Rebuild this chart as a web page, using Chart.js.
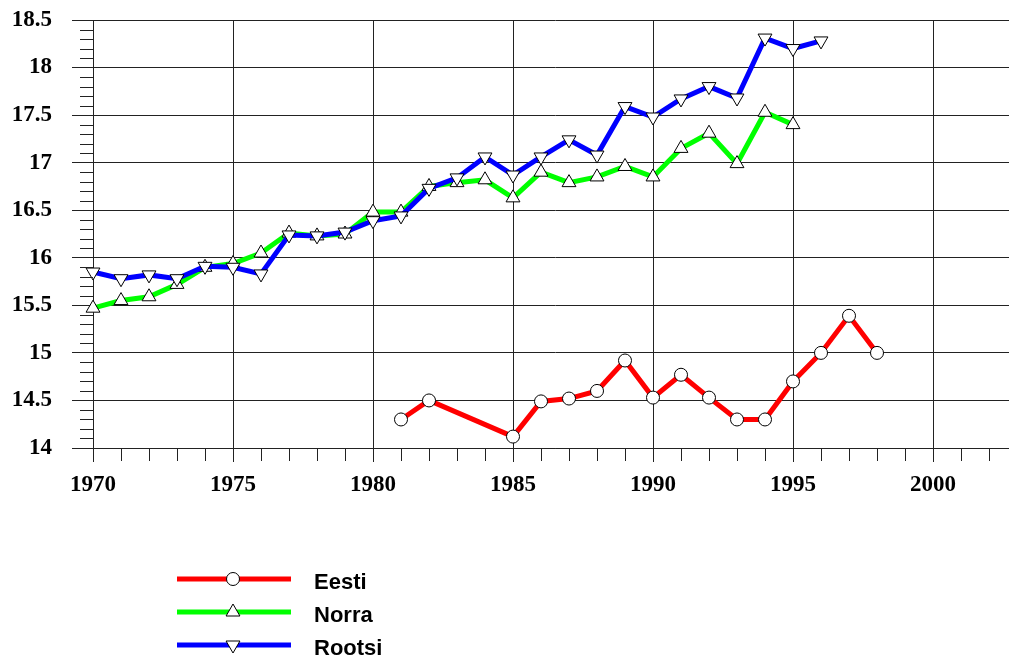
<!DOCTYPE html>
<html lang="et">
<head>
  <meta charset="UTF-8">
  <title>Eesti, Norra, Rootsi 1970-1998</title>
  <script src="https://cdn.jsdelivr.net/npm/chart.js"></script>
  <style>
    html, body {
      margin: 0;
      padding: 0;
      background: #fff;
      overflow: hidden;
    }
    .wrap {
      width: 1030px;
      height: 657px;
    }
  </style>
</head>
<body>
<div class="wrap">
  <canvas id="chart" width="1030" height="657"></canvas>
</div>

<script>
  // series
  const eestiYears = [1981, 1982, 1985, 1986, 1987, 1988, 1989, 1990, 1991, 1992, 1993, 1994, 1995, 1996, 1997, 1998];
  const eestiValues = [14.30, 14.50, 14.12, 14.49, 14.52, 14.60, 14.92, 14.53, 14.77, 14.53, 14.30, 14.30, 14.70, 15.00, 15.39, 15.00];

  const norraYears = [1970, 1971, 1972, 1973, 1974, 1975, 1976, 1977, 1978, 1979, 1980, 1981, 1982, 1983, 1984, 1985, 1986, 1987, 1988, 1989, 1990, 1991, 1992, 1993, 1994, 1995];
  const norraValues = [15.47, 15.55, 15.59, 15.72, 15.90, 15.94, 16.05, 16.26, 16.23, 16.25, 16.48, 16.48, 16.75, 16.79, 16.82, 16.63, 16.90, 16.79, 16.85, 16.96, 16.85, 17.15, 17.31, 16.99, 17.53, 17.40];

  const rootsiYears = [1970, 1971, 1972, 1973, 1974, 1975, 1976, 1977, 1978, 1979, 1980, 1981, 1982, 1983, 1984, 1985, 1986, 1987, 1988, 1989, 1990, 1991, 1992, 1993, 1994, 1995, 1996];
  const rootsiValues = [15.85, 15.78, 15.82, 15.78, 15.91, 15.90, 15.83, 16.24, 16.23, 16.27, 16.39, 16.44, 16.73, 16.84, 17.06, 16.87, 17.06, 17.24, 17.08, 17.59, 17.48, 17.67, 17.80, 17.68, 18.31, 18.20, 18.28];

  // axes
  const xMin = 1970, xMax = 2003, xStep = 5;
  const yMin = 14, yMax = 18.5, yStep = 0.5, yMinorStep = 0.1;

  const pairs = (xs, ys) => xs.map((x, i) => ({ x: x, y: ys[i] }));

  const serif = "'Liberation Serif', 'Times New Roman', serif";
  const sans = "'Liberation Sans', Arial, sans-serif";
  const gridColor = '#222';

  // small ticks between the labelled ones
  const minorTicks = {
    id: 'minorTicks',
    afterDraw(chart) {
      const { ctx, chartArea, scales } = chart;
      ctx.save();
      ctx.strokeStyle = gridColor;
      ctx.lineWidth = 1;
      ctx.beginPath();
      const nY = Math.round((yMax - yMin) / yMinorStep);
      for (let i = 0; i <= nY; i++) {
        if (i % 5 === 0) continue;
        const y = Math.round(scales.y.getPixelForValue(yMin + i * yMinorStep)) + 0.5;
        ctx.moveTo(chartArea.left - 13, y);
        ctx.lineTo(chartArea.left, y);
      }
      for (let yr = xMin; yr <= xMax; yr++) {
        if (yr % xStep === 0) continue;
        const x = Math.round(scales.x.getPixelForValue(yr)) + 0.5;
        ctx.moveTo(x, chartArea.bottom);
        ctx.lineTo(x, chartArea.bottom + 13);
      }
      ctx.stroke();
      ctx.restore();
    }
  };

  // legend under the plot: line sample, marker, name
  const sideLegend = {
    id: 'sideLegend',
    afterDraw(chart) {
      const ctx = chart.ctx;
      const names = ['Eesti', 'Norra', 'Rootsi'];
      const x0 = 177, x1 = 291, xm = 233, xt = 314;
      let y = 579;
      ctx.save();
      names.forEach(name => {
        const ds = chart.data.datasets.find(d => d.label === name);
        ctx.strokeStyle = ds.borderColor;
        ctx.lineWidth = ds.borderWidth;
        ctx.beginPath();
        ctx.moveTo(x0, y);
        ctx.lineTo(x1, y);
        ctx.stroke();

        ctx.fillStyle = ds.pointBackgroundColor;
        ctx.strokeStyle = ds.pointBorderColor;
        ctx.lineWidth = ds.pointBorderWidth;
        Chart.helpers.drawPoint(ctx, {
          pointStyle: ds.pointStyle,
          radius: ds.pointRadius,
          rotation: ds.pointRotation || 0,
          borderWidth: ds.pointBorderWidth
        }, xm, y);

        ctx.fillStyle = '#000';
        ctx.font = 'bold 22px ' + sans;
        ctx.textAlign = 'left';
        ctx.textBaseline = 'middle';
        ctx.fillText(name, xt, y + 4);
        y += 33;
      });
      ctx.restore();
    }
  };

  const common = {
    borderWidth: 5,
    tension: 0,
    pointBackgroundColor: '#fff',
    pointBorderColor: '#000',
    pointBorderWidth: 1,
    clip: false
  };

  new Chart(document.getElementById('chart'), {
    type: 'line',
    data: {
      datasets: [
        Object.assign({}, common, {
          label: 'Eesti',
          data: pairs(eestiYears, eestiValues),
          borderColor: '#ff0000',
          pointStyle: 'circle',
          pointRadius: 6.5,
          order: 2
        }),
        Object.assign({}, common, {
          label: 'Norra',
          data: pairs(norraYears, norraValues),
          borderColor: '#00ff00',
          pointStyle: 'triangle',
          pointRadius: 8,
          order: 1
        }),
        Object.assign({}, common, {
          label: 'Rootsi',
          data: pairs(rootsiYears, rootsiValues),
          borderColor: '#0000ff',
          pointStyle: 'triangle',
          pointRotation: 180,
          pointRadius: 8,
          order: 0
        })
      ]
    },
    options: {
      responsive: false,
      animation: false,
      devicePixelRatio: 1,
      layout: { padding: { top: 20, right: 13, left: 0, bottom: 0 } },
      plugins: {
        legend: { display: false },
        tooltip: { enabled: false }
      },
      scales: {
        x: {
          type: 'linear',
          min: xMin,
          max: xMax,
          afterFit: s => {
            s.height = 209;
            s.paddingLeft = 0;
            s.paddingRight = 0;
          },
          border: { color: gridColor, width: 1 },
          grid: { color: gridColor, lineWidth: 1, tickLength: 14 },
          ticks: {
            stepSize: xStep,
            includeBounds: false,
            maxRotation: 0,
            padding: 9,
            color: '#000',
            font: { family: serif, size: 23, weight: 'bold' },
            callback: v => String(v)
          }
        },
        y: {
          min: yMin,
          max: yMax,
          afterFit: s => {
            s.width = 93;
            s.paddingTop = 0;
            s.paddingBottom = 0;
          },
          border: { color: gridColor, width: 1 },
          grid: { color: gridColor, lineWidth: 1, tickLength: 21 },
          ticks: {
            stepSize: yStep,
            padding: 20,
            color: '#000',
            font: { family: serif, size: 23, weight: 'bold' },
            callback: v => String(v)
          }
        }
      }
    },
    plugins: [minorTicks, sideLegend]
  });
</script>
</body>
</html>
